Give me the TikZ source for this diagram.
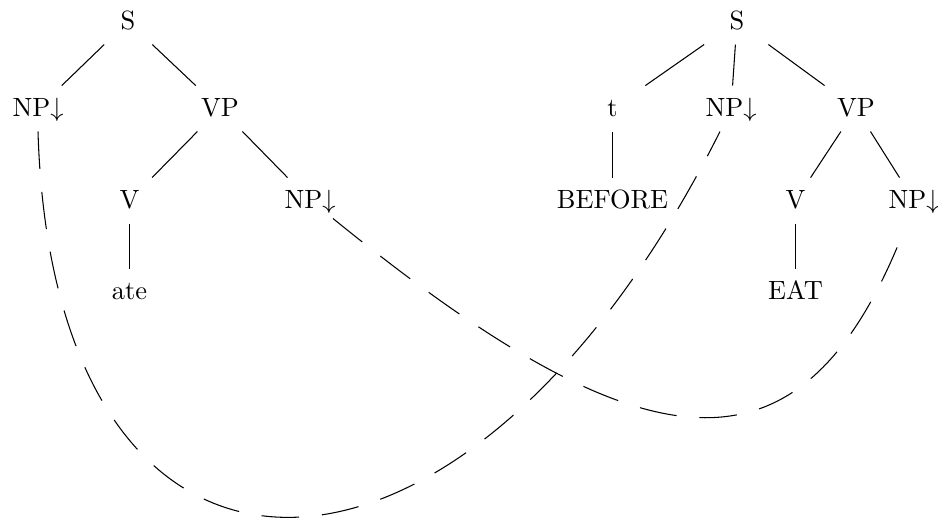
\documentclass[tikz,border=0pt]{standalone}
\usetikzlibrary{calc}
\begin{document}
\begin{tikzpicture}[x=0.3788pt,y=-0.3788pt,
  cat/.style={anchor=base, minimum width=70pt, inner xsep=0pt,
              text height=7pt, text depth=0.6pt, inner ysep=4.7pt},
  branch/.style={line width=0.4pt},
  subst/.style={line width=0.4pt, dash pattern=on 14.2pt off 8.7pt}]
\useasboundingbox (0,0) rectangle (938,519);

% elementary tree for "ate"
\node[cat] (s1)  at (128,30)    {S};
\node[cat] (np1) at (38,117)    {NP$\downarrow$};
\node[cat] (vp1) at (220,117)   {VP};
\node[cat] (v1)  at (129.5,209) {V};
\node[cat] (np2) at (310,209)   {NP$\downarrow$};
\node[cat] (ate) at (129.5,300) {ate};

\draw[branch] (s1) -- (np1);
\draw[branch] (s1) -- (vp1);
\draw[branch] (vp1) -- (v1);
\draw[branch] (vp1) -- (np2);
\draw[branch] (v1) -- (ate);

% semantic tree with BEFORE and EAT
\node[cat] (s2)     at (737,30)    {S};
\node[cat] (t)      at (612.5,117) {t};
\node[cat] (np3)    at (731,117)   {NP$\downarrow$};
\node[cat] (vp2)    at (856,117)   {VP};
\node[cat] (before) at (612.5,209) {BEFORE};
\node[cat] (v2)     at (795.5,209) {V};
\node[cat] (np4)    at (914,209)   {NP$\downarrow$};
\node[cat] (eat)    at (795.5,300) {EAT};

\draw[branch] (s2) -- (t);
\draw[branch] (s2) -- (np3);
\draw[branch] (s2) -- (vp2);
\draw[branch] (t) -- (before);
\draw[branch] (vp2) -- (v2);
\draw[branch] (vp2) -- (np4);
\draw[branch] (v2) -- (eat);

% links between substitution sites
\draw[subst] (np1.south) .. controls (53.5,646) and (462,646) .. ($(np3.south)+(-11,0)$);
\draw[subst] ($(np2.south)+(23,-5)$) .. controls (645,472) and (800,490) .. ($(np4.south)+(-12,12)$);
\end{tikzpicture}
\end{document}
